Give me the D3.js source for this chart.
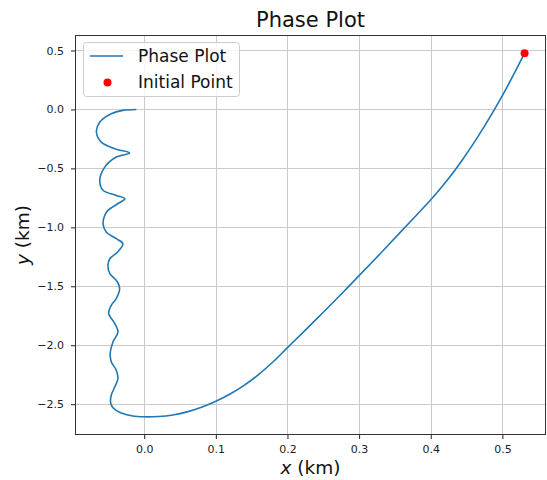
<!DOCTYPE html>
<html>
<head>
<meta charset="utf-8">
<script src="https://cdn.jsdelivr.net/npm/d3@7"></script>
<style>
  html, body { margin: 0; padding: 0; background: #fff; }
  svg { display: block; font-family: "DejaVu Sans", sans-serif; }
</style>
</head>
<body>
<svg id="chart" width="547" height="480"></svg>
<script>
// Trajectory in the x–y plane, in time order from the initial point (km)
const pathX = [
  0.531, 0.518, 0.505, 0.490, 0.475, 0.460, 0.445, 0.430, 0.415, 0.400,
  0.380, 0.360, 0.330, 0.300, 0.280, 0.250, 0.220, 0.200, 0.180, 0.160,
  0.140, 0.120, 0.100, 0.080, 0.060, 0.040, 0.020, 0.000,
  -0.016, -0.033, -0.0436, -0.0468,
  -0.046, -0.041, -0.0366, -0.039, -0.046, -0.0475, -0.0436, -0.0366, -0.041,
  -0.0496, -0.046, -0.039, -0.0343, -0.039, -0.048, -0.0506, -0.048, -0.037,
  -0.0297, -0.039, -0.053, -0.0575, -0.055, -0.0506, -0.037, -0.027, -0.039,
  -0.0575, -0.062, -0.055, -0.039, -0.0203, -0.041, -0.060, -0.0667, -0.062,
  -0.046, -0.030, -0.011
];
const pathY = [
  0.477, 0.322, 0.173, 0.011, -0.142, -0.286, -0.420, -0.546, -0.660, -0.766,
  -0.897, -1.026, -1.220, -1.410, -1.536, -1.720, -1.901, -2.020, -2.140, -2.247,
  -2.338, -2.413, -2.475, -2.526, -2.565, -2.591, -2.604, -2.607,
  -2.600, -2.572, -2.530, -2.490,
  -2.424, -2.353, -2.282, -2.212, -2.14, -2.07, -1.972, -1.887, -1.816,
  -1.73, -1.661, -1.604, -1.52, -1.449, -1.392, -1.322, -1.266, -1.209,
  -1.138, -1.096, -1.04, -0.969, -0.898, -0.856, -0.80, -0.757, -0.729,
  -0.686, -0.60, -0.489, -0.404, -0.370, -0.333, -0.277, -0.192, -0.107,
  -0.036, -0.008, 0.0
];
const initialPoint = [0.531, 0.477];

const xTicks = [0.0, 0.1, 0.2, 0.3, 0.4, 0.5];
const yTicks = [-2.5, -2.0, -1.5, -1.0, -0.5, 0.0, 0.5];

const titleText = "Phase Plot";
const seriesLabels = ["Phase Plot", "Initial Point"];

const lineColor = "#1f77b4";
const pointColor = "#ff0000";

// Plot box
const boxL = 75, boxR = 546, boxT = 35, boxB = 435;

const points = pathX.map((v, i) => [v, pathY[i]]);

// Data extent padded by 5% on each side
function padded(vals) {
  const [lo, hi] = d3.extent(vals);
  const m = (hi - lo) * 0.05;
  return [lo - m, hi + m];
}
const x = d3.scaleLinear().domain(padded(pathX.concat([initialPoint[0]]))).range([boxL, boxR]);
const y = d3.scaleLinear().domain(padded(pathY.concat([initialPoint[1]]))).range([boxB, boxT]);

const svg = d3.select("#chart");
const fmt = v => d3.format(".1f")(v).replace("-", "\u2212");

// Grid
const grid = svg.append("g").attr("stroke", "#cbcbcb").attr("stroke-width", 1);
grid.selectAll("line.gx").data(xTicks).join("line").attr("class", "gx")
  .attr("x1", d => Math.round(x(d)) + 0.5).attr("x2", d => Math.round(x(d)) + 0.5)
  .attr("y1", boxT).attr("y2", boxB);
grid.selectAll("line.gy").data(yTicks).join("line").attr("class", "gy")
  .attr("y1", d => Math.round(y(d)) + 0.5).attr("y2", d => Math.round(y(d)) + 0.5)
  .attr("x1", boxL).attr("x2", boxR);

// Trajectory
const line = d3.line().x(d => x(d[0])).y(d => y(d[1])).curve(d3.curveCatmullRom.alpha(0.5));
svg.append("path")
  .datum(points)
  .attr("d", line)
  .attr("fill", "none")
  .attr("stroke", lineColor)
  .attr("stroke-width", 1.6)
  .attr("stroke-linejoin", "round");

// Initial point
svg.append("circle")
  .attr("cx", x(initialPoint[0])).attr("cy", y(initialPoint[1]))
  .attr("r", 4).attr("fill", pointColor);

// Axes
const xAxis = d3.axisBottom(x).tickValues(xTicks).tickFormat(fmt).tickSize(4).tickPadding(6);
const yAxis = d3.axisLeft(y).tickValues(yTicks).tickFormat(fmt).tickSize(4).tickPadding(7);

const gx = svg.append("g").attr("transform", `translate(0,${boxB})`).call(xAxis);
const gy = svg.append("g").attr("transform", `translate(${boxL},0)`).call(yAxis);
[gx, gy].forEach(g => {
  g.select(".domain").remove();
  g.selectAll(".tick line").attr("stroke", "#222").attr("stroke-width", 1);
  g.selectAll(".tick text").attr("fill", "#222").style("font-size", "11px")
    .style("font-family", "'DejaVu Sans', sans-serif");
});

// Frame
svg.append("rect")
  .attr("x", boxL + 0.5).attr("y", boxT + 0.5)
  .attr("width", boxR - boxL - 1).attr("height", boxB - boxT - 1)
  .attr("fill", "none").attr("stroke", "#333").attr("stroke-width", 1);

// Title and axis labels
svg.append("text")
  .attr("x", (boxL + boxR) / 2).attr("y", 27)
  .attr("text-anchor", "middle")
  .style("font-size", "21px").attr("fill", "#111")
  .text(titleText);

const xl = svg.append("text")
  .attr("x", (boxL + boxR) / 2).attr("y", 474)
  .attr("text-anchor", "middle")
  .style("font-size", "18.5px").attr("fill", "#111");
xl.append("tspan").style("font-style", "italic").text("x");
xl.append("tspan").text(" (km)");

const yl = svg.append("text")
  .attr("transform", `translate(29,${(boxT + boxB) / 2}) rotate(-90)`)
  .attr("text-anchor", "middle")
  .style("font-size", "18.5px").attr("fill", "#111");
yl.append("tspan").style("font-style", "italic").text("y");
yl.append("tspan").text(" (km)");

// Legend
const lg = svg.append("g");
lg.append("rect")
  .attr("x", 83.5).attr("y", 42.5).attr("width", 156).attr("height", 54)
  .attr("rx", 3).attr("fill", "#fff").attr("fill-opacity", 0.8)
  .attr("stroke", "#cccccc").attr("stroke-width", 1);
lg.append("line")
  .attr("x1", 90).attr("x2", 123).attr("y1", 56).attr("y2", 56)
  .attr("stroke", lineColor).attr("stroke-width", 1.6);
lg.append("circle").attr("cx", 107.5).attr("cy", 82.5).attr("r", 4).attr("fill", pointColor);
lg.selectAll("text.lbl").data(seriesLabels).join("text").attr("class", "lbl")
  .attr("x", 138).attr("y", (d, i) => 62 + i * 25.5)
  .style("font-size", "17px").attr("fill", "#111")
  .text(d => d);
</script>
</body>
</html>
